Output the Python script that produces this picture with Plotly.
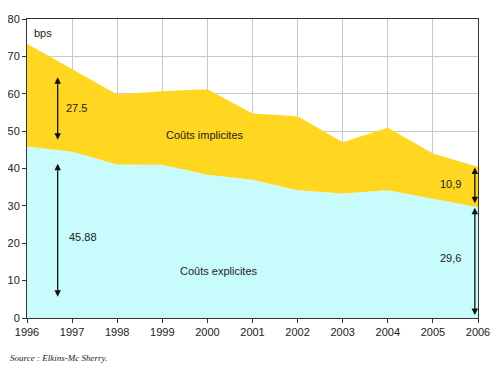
import plotly.graph_objects as go

years = [1996, 1997, 1998, 1999, 2000, 2001, 2002, 2003, 2004, 2005, 2006]
explicit = [45.88, 44.5, 41.1, 41.0, 38.3, 37.0, 34.2, 33.3, 34.2, 32.0, 29.6]
total = [73.38, 66.5, 59.8, 60.7, 61.2, 54.7, 54.0, 47.0, 50.9, 44.0, 40.5]
yticks = [0, 10, 20, 30, 40, 50, 60, 70, 80]

cyan = "#C8FCFC"
yellow = "#FFD620"

fig = go.Figure()
fig.add_trace(go.Scatter(x=years, y=explicit, mode="lines", line=dict(width=0, color=cyan),
                         fill="tozeroy", fillcolor=cyan, hoverinfo="skip", showlegend=False))
fig.add_trace(go.Scatter(x=years, y=total, mode="lines", line=dict(width=0, color=yellow),
                         fill="tonexty", fillcolor=yellow, hoverinfo="skip", showlegend=False))

font = dict(family="Liberation Sans, Arial, sans-serif", size=11, color="#222222")

def arrow(x, y0, y1):
    fig.add_annotation(x=x, y=y1, ax=x, ay=y0, xref="x", yref="y", axref="x", ayref="y",
                       text="", showarrow=True, arrowhead=2, startarrowhead=2,
                       arrowside="end+start", arrowsize=1, arrowwidth=1.3, arrowcolor="#111111")

arrow(1996.68, 47.3, 64.4)
arrow(1996.68, 5.3, 41.3)
arrow(2005.93, 30.3, 40.3)
arrow(2005.93, 0.4, 29.5)

def label(x, y, t, anchor="left"):
    fig.add_annotation(x=x, y=y, xref="x", yref="y", text=t, showarrow=False,
                       xanchor=anchor, yanchor="middle", font=font)

label(1996.82, 56.3, "27.5")
label(1996.88, 21.8, "45.88")
label(2005.4, 35.9, "10,9", "center")
label(2005.4, 16.0, "29,6", "center")
label(1999.95, 49.0, "Coûts implicites", "center")
label(2000.25, 12.6, "Coûts explicites", "center")
label(1996.1, 76.3, "bps")

fig.add_annotation(x=-0.042, y=-0.134, xref="paper", yref="paper", text="<i>Source : Elkins-Mc Sherry.</i>",
                   showarrow=False, xanchor="left", yanchor="middle",
                   font=dict(family="Liberation Serif, Times New Roman, serif", size=9, color="#222222"))

fig.update_layout(
    width=500, height=370,
    margin=dict(l=19, r=30, t=11, b=60, autoexpand=False),
    paper_bgcolor="white", plot_bgcolor="white",
    font=font,
    xaxis=dict(range=[1996, 2006], tickvals=years, ticktext=[str(y) for y in years],
               showgrid=True, gridcolor="#C8C8C8", gridwidth=1, automargin=False,
               showline=True, linecolor="#333333", linewidth=1, mirror=True,
               ticks="outside", ticklen=4, tickcolor="#333333", zeroline=False,
               tickfont=dict(size=11, color="#222222")),
    yaxis=dict(range=[0, 80], tickvals=yticks, automargin=False,
               showgrid=True, gridcolor="#C8C8C8", gridwidth=1,
               showline=True, linecolor="#333333", linewidth=1, mirror=True,
               ticks="outside", ticklen=4, tickcolor="#333333", zeroline=False,
               tickfont=dict(size=11, color="#222222")),
)

fig.write_html("out.html")
